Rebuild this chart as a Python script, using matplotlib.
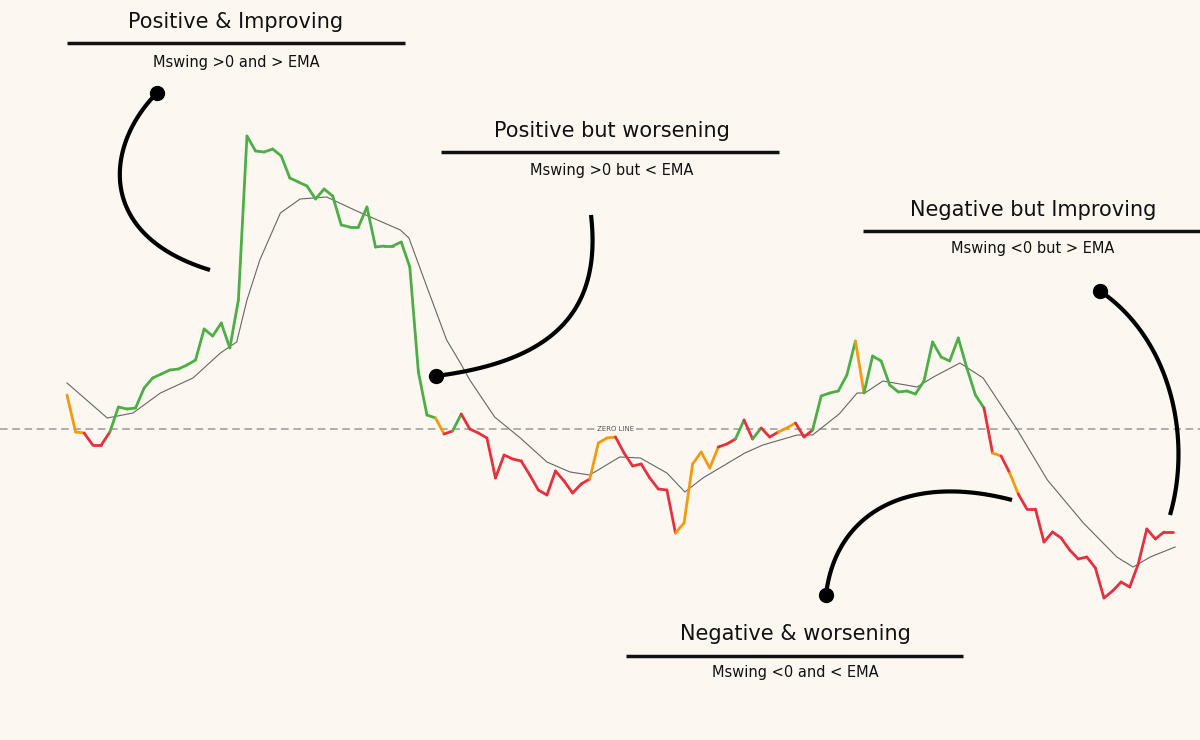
import numpy as np
import matplotlib
matplotlib.use("Agg")
import matplotlib.pyplot as plt
from matplotlib.collections import LineCollection

# Mswing values (index 0..129)
mswing = [3.4, -0.3, -0.4, -1.6, -1.6, -0.3, 2.2, 2.0, 2.1, 4.1, 5.1, 5.5, 5.9, 6.0, 6.4, 6.9,
          10.0, 9.3, 10.6, 8.1, 12.9, 29.3, 27.8, 27.7, 28.0, 27.3, 25.1, 24.7, 24.3, 23.0, 24.0,
          23.3, 20.4, 20.2, 20.2, 22.2, 18.2, 18.3, 18.3, 18.7, 16.2, 5.7, 1.4, 1.1, -0.5, -0.2,
          1.5, 0.0, -0.4, -0.9, -4.9, -2.6, -3.0, -3.2, -4.6, -6.1, -6.6, -4.2, -5.2, -6.4, -5.5,
          -5.0, -1.4, -0.9, -0.8, -2.4, -3.7, -3.5, -4.9, -6.0, -6.1, -10.4, -9.4, -3.5, -2.3,
          -3.9, -1.8, -1.5, -1.0, 0.9, -1.0, 0.1, -0.8, -0.3, 0.1, 0.6, -0.8, -0.1, 3.3, 3.6,
          3.8, 5.4, 8.8, 3.6, 7.3, 6.8, 4.4, 3.7, 3.8, 3.5, 4.8, 8.7, 7.2, 6.8, 9.1, 6.1, 3.4,
          2.1, -2.4, -2.7, -4.4, -6.5, -8.0, -8.0, -11.3, -10.3, -10.9, -12.1, -13.0, -12.8,
          -13.9, -16.9, -16.2, -15.3, -15.8, -13.5, -10.0, -11.0, -10.3, -10.3]
# segment colour state runs (state, number of consecutive segments)
state_runs = [("O", 2), ("R", 3), ("G", 38), ("O", 1), ("R", 1), ("G", 1), ("R", 15), ("O", 3),
              ("R", 7), ("O", 5), ("R", 2), ("G", 1), ("R", 1), ("G", 1), ("R", 2), ("O", 2),
              ("R", 2), ("G", 5), ("O", 1), ("G", 14), ("R", 1), ("O", 1), ("R", 1), ("O", 1),
              ("R", 18)]
# EMA line (x as index position, value)
ema_x = [0.0, 4.7, 7.7, 10.9, 14.7, 17.9, 19.8, 21.0, 22.5, 24.9, 27.2, 30.3, 33.8, 38.9, 39.9,
         42.0, 44.3, 45.9, 47.0, 49.9, 52.9, 56.0, 58.7, 61.0, 64.5, 66.9, 70.0, 72.1, 74.2,
         79.1, 81.2, 85.2, 87.0, 90.1, 92.2, 93.1, 95.2, 99.2, 101.1, 104.2, 106.9, 110.9, 114.4,
         118.6, 122.5, 124.4, 126.4, 129.3]
ema_v = [4.6, 1.1, 1.6, 3.6, 5.1, 7.6, 8.7, 12.9, 16.9, 21.6, 23.0, 23.2, 21.8, 19.9, 19.1,
         14.2, 8.9, 6.6, 4.9, 1.2, -0.9, -3.3, -4.3, -4.6, -2.8, -2.9, -4.4, -6.3, -4.9,
         -2.4, -1.6, -0.6, -0.6, 1.5, 3.6, 3.6, 4.8, 4.2, 5.2, 6.6, 5.1, -0.1, -5.1,
         -9.4, -12.8, -13.8, -12.8, -11.8]

BG = "#fcf8f1"
COL = {"G": "#4caf46", "O": "#f59a0c", "R": "#e6303e"}
PX0, STEP, ZY = 67.0, 8.57, 429.0

def dx(px):
    return (px - PX0) / STEP

def dy(py):
    return (ZY - py) / 10.0

fig = plt.figure(figsize=(12, 7.4), dpi=100, facecolor=BG)
ax = fig.add_axes([0, 0, 1, 1])
ax.set_facecolor(BG)
ax.set_xlim(dx(0), dx(1200))
ax.set_ylim(dy(740), dy(0))
ax.axis("off")

# zero line
ax.axhline(0, color="#999999", lw=1.1, ls=(0, (5, 3)), zorder=1)
ax.text(dx(616), 0, "ZERO LINE", fontsize=5, color="#555555", ha="center", va="center",
        bbox=dict(facecolor=BG, edgecolor="none", pad=1), zorder=2)

ax.plot(ema_x, ema_v, color="#666666", lw=0.8, zorder=3)

seg_states = [s for s, n in state_runs for _ in range(n)]
xs = np.arange(len(mswing))
segs = [[(xs[i], mswing[i]), (xs[i + 1], mswing[i + 1])] for i in range(len(mswing) - 1)]
cols = [COL[s] for s in seg_states]
ax.add_collection(LineCollection(segs, colors=cols, linewidths=2, zorder=4, capstyle="round"))

def label(cx, ty, x0, x1, ly, sy, title, sub):
    ax.text(dx(cx), dy(ty), title, fontsize=15, ha="center", va="center", color="#111111",
            family="DejaVu Sans")
    ax.plot([dx(x0), dx(x1)], [dy(ly), dy(ly)], color="#111111", lw=2.5, solid_capstyle="butt")
    ax.text(dx(cx), dy(sy), sub, fontsize=10.5, ha="center", va="center", color="#111111")

label(236, 22, 67, 405, 43, 62, "Positive & Improving", "Mswing >0 and > EMA")
label(612, 131, 441, 779, 152, 170, "Positive but worsening", "Mswing >0 but < EMA")
label(1033, 210, 863, 1200, 231, 248, "Negative but Improving", "Mswing <0 but > EMA")
label(795, 634, 626, 963, 656, 673, "Negative & worsening", "Mswing <0 and < EMA")

def curve(p0, p1, p2, p3):
    t = np.linspace(0, 1, 100)[:, None]
    P = [np.array(p) for p in (p0, p1, p2, p3)]
    pts = (1 - t) ** 3 * P[0] + 3 * (1 - t) ** 2 * t * P[1] + 3 * (1 - t) * t ** 2 * P[2] + t ** 3 * P[3]
    ax.plot(dx(pts[:, 0]), dy(pts[:, 1]), color="black", lw=3, zorder=5, solid_capstyle="butt")
    ax.plot(dx(p0[0]), dy(p0[1]), "o", color="black", ms=10, zorder=6)

curve((157, 93), (105, 145), (95, 235), (210, 270))
curve((436, 376), (545, 362), (603, 318), (591, 215))
curve((1100, 291), (1172, 340), (1192, 440), (1170, 515))
curve((826, 595), (835, 515), (905, 472), (1012, 500))

fig.savefig("out.png", dpi=100, facecolor=BG)
